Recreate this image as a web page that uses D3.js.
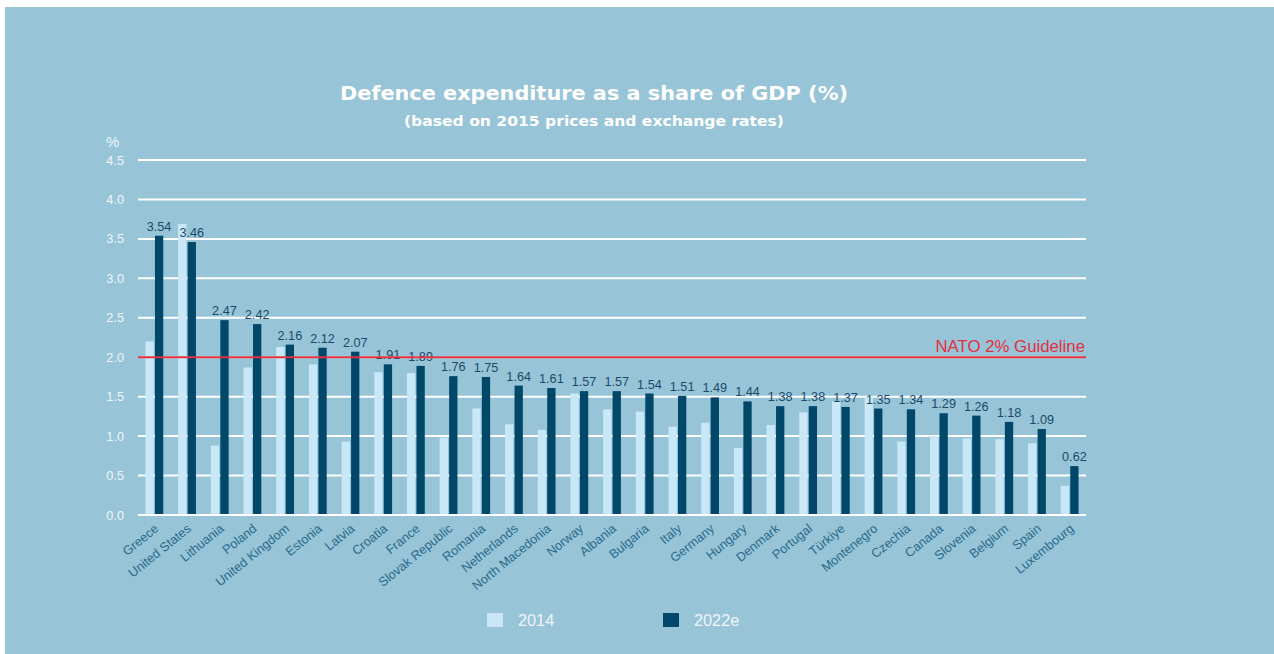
<!DOCTYPE html>
<html>
<head>
<meta charset="utf-8">
<script src="https://cdn.jsdelivr.net/npm/d3@7"></script>
<style>
  html, body { margin: 0; padding: 0; background: #ffffff; }
  svg { display: block; }
</style>
</head>
<body>
<script>
const countries = ["Greece","United States","Lithuania","Poland","United Kingdom","Estonia","Latvia","Croatia","France","Slovak Republic","Romania","Netherlands","North Macedonia","Norway","Albania","Bulgaria","Italy","Germany","Hungary","Denmark","Portugal","Türkiye","Montenegro","Czechia","Canada","Slovenia","Belgium","Spain","Luxembourg"];
const values2014 = [2.20,3.69,0.88,1.87,2.13,1.91,0.93,1.81,1.80,0.98,1.35,1.15,1.08,1.54,1.34,1.31,1.12,1.17,0.85,1.14,1.30,1.44,1.50,0.93,1.00,0.97,0.96,0.91,0.37];
const values2022 = [3.54,3.46,2.47,2.42,2.16,2.12,2.07,1.91,1.89,1.76,1.75,1.64,1.61,1.57,1.57,1.54,1.51,1.49,1.44,1.38,1.38,1.37,1.35,1.34,1.29,1.26,1.18,1.09,0.62];
const yTicks = [0,0.5,1.0,1.5,2.0,2.5,3.0,3.5,4.0,4.5];
const seriesNames = ["2014","2022e"];
const guideline = 2.0;

(function(){
const W = 1274, H = 654;
const svg = d3.select("body").append("svg").attr("width", W).attr("height", H);
svg.append("rect").attr("x",5).attr("y",7).attr("width",W-5).attr("height",H-7).attr("fill","#97c4d7");

const pL = 138, pR = 1086, pT = 160, pB = 515;
const x = d3.scaleBand().domain(countries).range([pL, pR]).paddingInner(0).paddingOuter(0);
const y = d3.scaleLinear().domain([0,4.5]).range([pB, pT]);

const lightC = "#c8e8f8", darkC = "#00476a";
const fontA = "'Liberation Sans', Arial, sans-serif";
const fontT = "'DejaVu Sans', sans-serif";

// gridlines
svg.append("g").selectAll("line").data(yTicks).join("line")
  .attr("x1", pL).attr("x2", pR)
  .attr("y1", d => y(d)).attr("y2", d => y(d))
  .attr("stroke", "#ffffff").attr("stroke-width", 2);

// y axis labels
const yAxis = d3.axisLeft(y).tickValues(yTicks).tickFormat(d3.format(".1f")).tickSize(0).tickPadding(14);
const gy = svg.append("g").attr("transform", `translate(${pL},0)`).call(yAxis);
gy.select(".domain").remove();
gy.selectAll("text").attr("fill","#eef6fa").attr("font-family",fontA).attr("font-size",12.7);
svg.append("text").attr("x",106).attr("y",147).text("%")
  .attr("fill","#eef6fa").attr("font-family",fontA).attr("font-size",15);

// bars
const bw = 8.3;
const g = svg.append("g");
g.selectAll("rect.l").data(countries).join("rect").attr("class","l")
  .attr("x", d => x(d) + x.bandwidth()/2 - bw - 0.6)
  .attr("width", bw)
  .attr("y", (d,i) => y(values2014[i]))
  .attr("height", (d,i) => y(0) - y(values2014[i]))
  .attr("fill", lightC);
g.selectAll("rect.d").data(countries).join("rect").attr("class","d")
  .attr("x", d => x(d) + x.bandwidth()/2 + 0.6)
  .attr("width", bw)
  .attr("y", (d,i) => y(values2022[i]))
  .attr("height", (d,i) => y(0) - y(values2022[i]))
  .attr("fill", darkC);

// baseline
svg.append("line").attr("x1",pL).attr("x2",pR).attr("y1",y(0)).attr("y2",y(0))
  .attr("stroke","#ffffff").attr("stroke-width",2);

// guideline
svg.append("line").attr("x1",pL).attr("x2",pR).attr("y1",y(guideline)).attr("y2",y(guideline))
  .attr("stroke","#e3303f").attr("stroke-width",2);
svg.append("text").attr("x",pR-1).attr("y",y(guideline)-5).attr("text-anchor","end")
  .text("NATO 2% Guideline").attr("fill","#e3303f").attr("font-family",fontA).attr("font-size",16.8);

// value labels
g.selectAll("text.v").data(countries).join("text").attr("class","v")
  .attr("x", d => x(d) + x.bandwidth()/2 + 0.6 + bw/2)
  .attr("y", (d,i) => y(values2022[i]) - 5)
  .attr("text-anchor","middle")
  .text((d,i) => d3.format(".2f")(values2022[i]))
  .attr("fill","#1b4a69").attr("font-family",fontA).attr("font-size",12.7);

// x labels
const xAxis = d3.axisBottom(x).tickSize(0).tickPadding(0);
const gx = svg.append("g").attr("transform",`translate(0,${pB})`).call(xAxis);
gx.select(".domain").remove();
gx.selectAll("text")
  .attr("fill","#2a6a8c").attr("font-family",fontA).attr("font-size",12.7)
  .attr("text-anchor","end").attr("dy",null).attr("y",0)
  .attr("transform","translate(5,15) rotate(-39)");

// title
svg.append("text").attr("x",594).attr("y",100).attr("text-anchor","middle")
  .text("Defence expenditure as a share of GDP (%)")
  .attr("fill","#ffffff").attr("font-family",fontT)
  .attr("font-weight","bold").attr("font-size",20)
  .attr("textLength",508).attr("lengthAdjust","spacingAndGlyphs");
svg.append("text").attr("x",594).attr("y",126).attr("text-anchor","middle")
  .text("(based on 2015 prices and exchange rates)")
  .attr("fill","#ffffff").attr("font-family",fontT)
  .attr("font-weight","bold").attr("font-size",13.5)
  .attr("textLength",380).attr("lengthAdjust","spacingAndGlyphs");

// legend
const lg = svg.append("g");
const legX = [487, 663];
const legColors = [lightC, darkC];
lg.selectAll("rect").data(seriesNames).join("rect")
  .attr("x",(d,i)=>legX[i]).attr("y",613).attr("width",16).attr("height",14)
  .attr("fill",(d,i)=>legColors[i]);
lg.selectAll("text").data(seriesNames).join("text")
  .attr("x",(d,i)=>legX[i]+31).attr("y",626)
  .text(d=>d).attr("fill","#eef6fa").attr("font-family",fontA).attr("font-size",16.3);
})();
</script>
</body>
</html>
